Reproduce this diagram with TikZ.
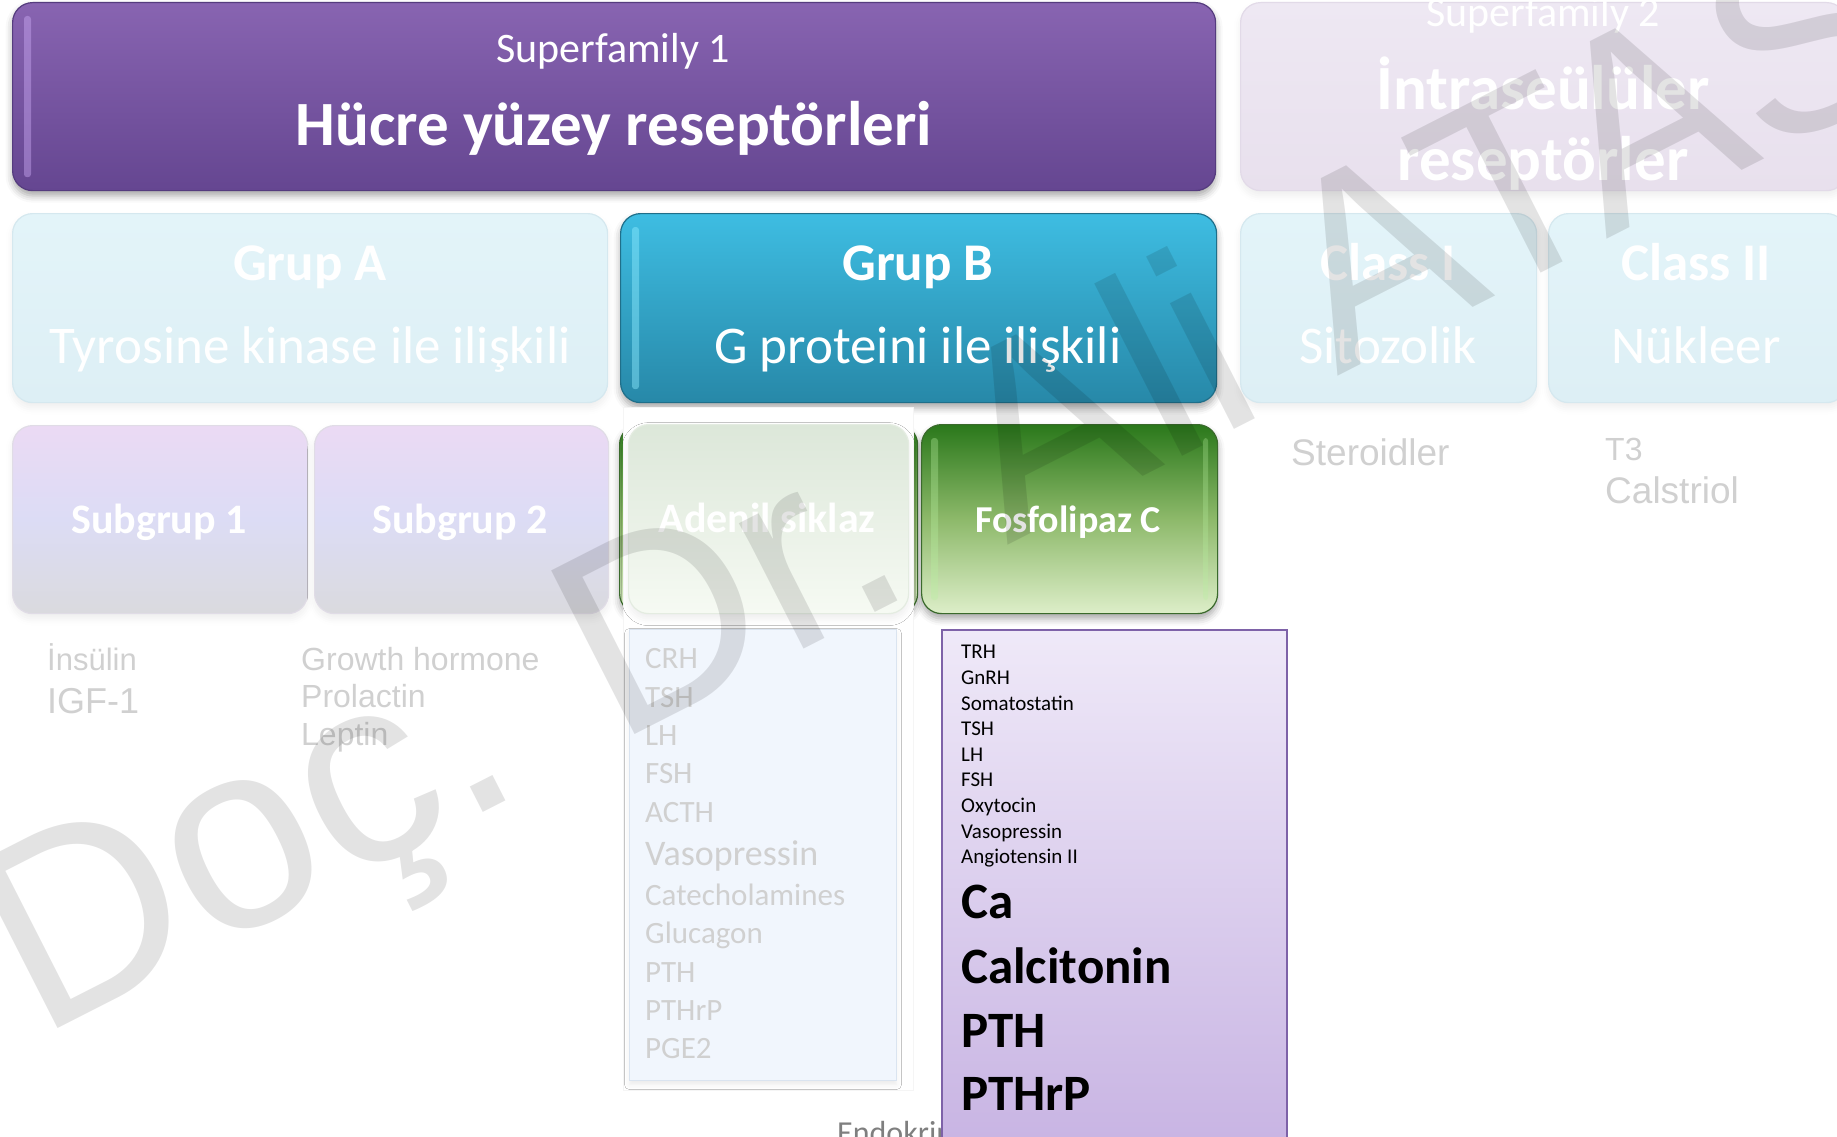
\documentclass[tikz,border=0pt]{standalone}
\usepackage{fontspec}
\setmainfont{Carlito}
\newfontfamily\arialf{Liberation Sans}
\usetikzlibrary{shadows.blur}
\newcommand\setfs[1]{\fontsize{#1}{#1}\selectfont}
\definecolor{sfaT}{HTML}{8864B1}\definecolor{sfaB}{HTML}{654691}\definecolor{sfaD}{HTML}{553C7E}\definecolor{sfaH}{HTML}{C9A8F2}
\definecolor{sfbT}{HTML}{EEE8F3}\definecolor{sfbB}{HTML}{E8E0ED}\definecolor{sfbD}{HTML}{E2DAE8}
\definecolor{gaT}{HTML}{E3F4F9}\definecolor{gaB}{HTML}{DDEFF5}\definecolor{gaD}{HTML}{D5E8EF}
\definecolor{gbT}{HTML}{3EBDE2}\definecolor{gbB}{HTML}{2788A8}\definecolor{gbD}{HTML}{1F6F8A}\definecolor{gbH}{HTML}{8EEBFF}
\definecolor{sgT}{HTML}{EBDAF4}\definecolor{sgM}{HTML}{DCDCF5}\definecolor{sgB}{HTML}{DADADE}\definecolor{sgD}{HTML}{E0DCE6}
\definecolor{fcT}{HTML}{2A781B}\definecolor{fcM}{HTML}{8DB96A}\definecolor{fcB}{HTML}{DDEEC9}\definecolor{fcD}{HTML}{3A6A2C}\definecolor{fcH}{HTML}{B8F0A0}
\definecolor{adT}{HTML}{DCE7D9}\definecolor{adB}{HTML}{F6FAF3}\definecolor{adD}{HTML}{E4ECE1}
\definecolor{lbF}{HTML}{F1F6FD}\definecolor{lbD}{HTML}{DAE4F0}
\definecolor{plT}{HTML}{EFE9F8}\definecolor{plB}{HTML}{C8B4E3}\definecolor{plD}{HTML}{7E62A8}
\definecolor{fadetxt}{HTML}{D0D0D0}
\definecolor{endotxt}{HTML}{7F7F7F}
\tikzset{
  box/.style={rectangle, rounded corners=20pt, line width=1.2pt, anchor=north west, inner sep=0pt},
  vivid/.style={box, blur shadow={shadow xshift=0pt, shadow yshift=-5pt, shadow blur radius=7pt, shadow opacity=35}},
  faded/.style={box, blur shadow={shadow xshift=0pt, shadow yshift=-5pt, shadow blur radius=7pt, shadow opacity=7}},
  lbl/.style={inner sep=0pt, anchor=base, text=white},
  item/.style={inner sep=0pt, anchor=base west},
  hl/.style={rounded corners=3pt},
}
\begin{document}
\begin{tikzpicture}[x=1pt,y=-1pt]
\useasboundingbox (0,0) rectangle (1837,1137);
\clip (0,0) rectangle (1837,1137);
% ---------- row 1
\node[vivid, draw=sfaD, top color=sfaT, bottom color=sfaB, minimum width=1203pt, minimum height=188pt] (sf1) at (12,2) {};
\fill[hl, sfaH, opacity=0.45] ([xshift=12pt,yshift=-14pt]sf1.north west) rectangle ([xshift=19pt,yshift=14pt]sf1.south west);
\node[faded, draw=sfbD, top color=sfbT, bottom color=sfbB, minimum width=606pt, minimum height=188pt] (sf2) at (1240,2) {};
% ---------- row 2
\node[faded, draw=gaD, top color=gaT, bottom color=gaB, minimum width=595pt, minimum height=189pt] (ga) at (12,213) {};
\node[vivid, draw=gbD, top color=gbT, bottom color=gbB, minimum width=596pt, minimum height=189pt] (gb) at (620,213) {};
\fill[hl, gbH, opacity=0.45] ([xshift=12pt,yshift=-14pt]gb.north west) rectangle ([xshift=19pt,yshift=14pt]gb.south west);
\node[faded, draw=gaD, top color=gaT, bottom color=gaB, minimum width=296pt, minimum height=189pt] (c1) at (1240,213) {};
\node[faded, draw=gaD, top color=gaT, bottom color=gaB, minimum width=298pt, minimum height=189pt] (c2) at (1548,213) {};
% ---------- row 3
\node[faded, draw=sgD, top color=sgT, bottom color=sgB, middle color=sgM, minimum width=295pt, minimum height=188pt] (sg1) at (12,425) {};
\node[faded, draw=sgD, top color=sgT, bottom color=sgB, middle color=sgM, minimum width=294pt, minimum height=188pt] (sg2) at (314,425) {};
\node[vivid, draw=fcD, top color=fcT, bottom color=fcB, middle color=fcM, minimum width=298pt, minimum height=189pt] (adg) at (619,424) {};
\fill[white, draw=black!4, line width=1pt] (623,407) rectangle (913,1090);
\node[faded, draw=adD, top color=adT, bottom color=adB, minimum width=280pt, minimum height=189pt] (ad) at (628,424) {};
\node[vivid, draw=fcD, top color=fcT, bottom color=fcB, middle color=fcM, minimum width=296pt, minimum height=189pt] (fc) at (921,424) {};
\fill[hl, fcH, opacity=0.35] ([xshift=10pt,yshift=-14pt]fc.north west) rectangle ([xshift=17pt,yshift=14pt]fc.south west);
\fill[hl, fcH, opacity=0.3] ([xshift=-15pt,yshift=-14pt]fc.north east) rectangle ([xshift=-10pt,yshift=14pt]fc.south east);
% ---------- box labels
\node[lbl, font=\setfs{42}] (sf1a) at (613,63) {Superfamily 1};
\node[lbl, font=\bfseries\setfs{63}] (sf1b) at (614,146) {Hücre yüzey reseptörleri};
\node[lbl, font=\setfs{42}] (sf2a) at (1543,27) {Superfamily 2};
\node[lbl, font=\bfseries\setfs{63}] (sf2b) at (1543,110) {İntraseülüler};
\node[lbl, font=\bfseries\setfs{63}] (sf2c) at (1543,180) {reseptörler};
\node[lbl, font=\bfseries\setfs{53}] (gaa) at (310,280) {Grup A};
\node[lbl, font=\setfs{53}] (gab) at (310,363) {Tyrosine kinase ile ilişkili};
\node[lbl, font=\bfseries\setfs{53}] (gba) at (918,280) {Grup B};
\node[lbl, font=\setfs{53}] (gbb) at (918,363) {G proteini ile ilişkili};
\node[lbl, font=\bfseries\setfs{53}] (c1a) at (1388,280) {Class I};
\node[lbl, font=\setfs{53}] (c1b) at (1388,363) {Sitozolik};
\node[lbl, font=\bfseries\setfs{53}] (c2a) at (1696,280) {Class II};
\node[lbl, font=\setfs{53}] (c2b) at (1696,363) {Nükleer};
\node[lbl, font=\bfseries\setfs{42}] (sg1a) at (159,533) {Subgrup 1};
\node[lbl, font=\bfseries\setfs{42}] (sg2a) at (460,533) {Subgrup 2};
\node[lbl, font=\bfseries\setfs{42}] (ada) at (767,532) {Adenil siklaz};
\node[lbl, font=\bfseries\setfs{38}] (fca) at (1068,532) {Fosfolipaz C};
% ---------- faded lists
\node[item, text=fadetxt, font=\arialf\setfs{31}] (ins) at (47,670) {İnsülin};
\node[item, text=fadetxt, font=\arialf\setfs{36}] (igf) at (47,713) {IGF-1};
\node[item, text=fadetxt, font=\arialf\setfs{32}] (gh) at (301,670) {Growth hormone};
\node[item, text=fadetxt, font=\arialf\setfs{32}] (prl) at (301,707) {Prolactin};
\node[item, text=fadetxt, font=\arialf\setfs{32}] (lep) at (301,745) {Leptin};
\node[item, text=fadetxt, font=\arialf\setfs{37}] (ster) at (1291,465) {Steroidler};
\node[item, text=fadetxt, font=\arialf\setfs{32}] (t3) at (1605,460) {T3};
\node[item, text=fadetxt, font=\arialf\setfs{37}] (cal) at (1605,503) {Calstriol};
% adenil list
\node[box, rounded corners=0pt, fill=lbF, draw=lbD, line width=1pt, minimum width=267pt, minimum height=451pt, blur shadow={shadow xshift=0pt, shadow yshift=-4pt, shadow blur radius=5pt, shadow opacity=8}] (adl) at (629,629) {};
\foreach \t/\y [count=\i] in {CRH/668, TSH/707, LH/745, FSH/783, ACTH/822, Catecholamines/905, Glucagon/943, PTH/982, PTHrP/1020, PGE2/1058}
  \node[item, text=fadetxt, font=\setfs{31}] (adi\i) at (645,\y) {\t};
\node[item, text=fadetxt, font=\setfs{36}] (advp) at (645,865) {Vasopressin};
% fosfolipaz list
\node[item, text=endotxt, font=\setfs{32}] (endo) at (837,1143) {Endokrin};
\node[box, rounded corners=0pt, top color=plT, bottom color=plB, draw=plD, line width=2pt, minimum width=345pt, minimum height=516pt] (pl) at (941,629) {};
\foreach \t/\y [count=\i] in {TRH/658, GnRH/684, Somatostatin/710, TSH/735, LH/761, FSH/786, Oxytocin/812, Vasopressin/838, Angiotensin II/863}
  \node[item, text=black, font=\setfs{21}] (pli\i) at (961,\y) {\t};
\foreach \t/\y [count=\i] in {Ca/918, Calcitonin/983, PTH/1047, PTHrP/1110}
  \node[item, text=black, font=\bfseries\setfs{51}] (plb\i) at (961,\y) {\t};
% ---------- watermark
\node[rotate=27, anchor=base west, inner sep=0pt, text=black, opacity=0.11, font=\arialf\setfs{267}] (wm) at (38,1039) {Doç. Dr. Ali ATAS};
\end{tikzpicture}
\end{document}
